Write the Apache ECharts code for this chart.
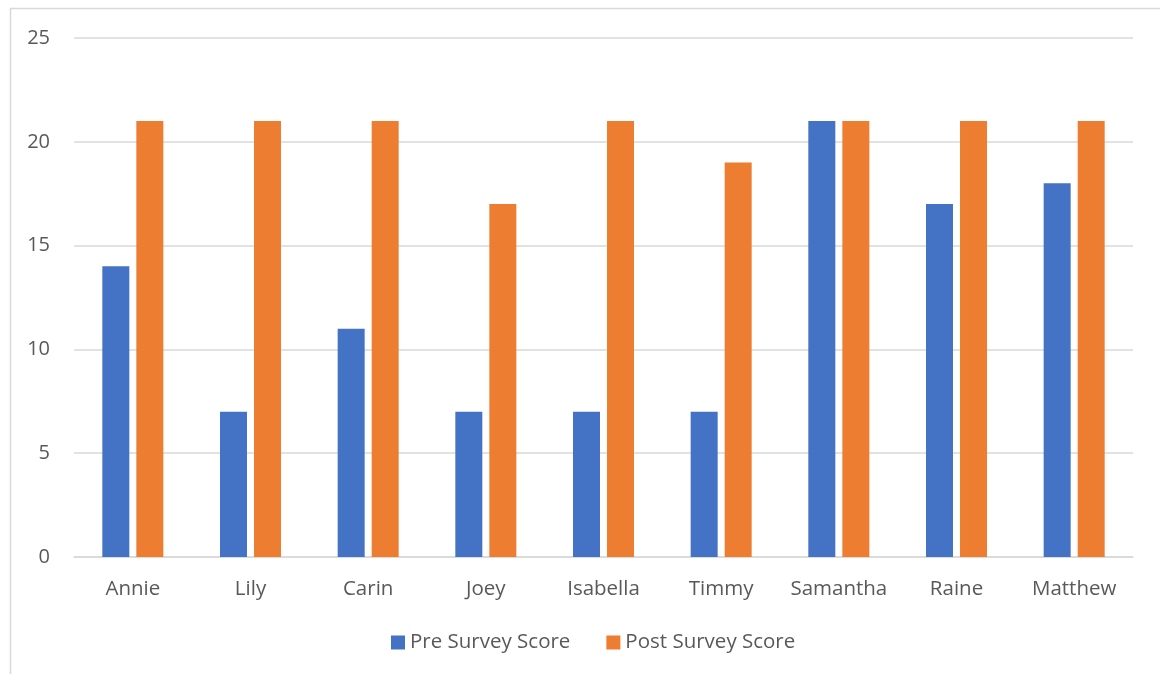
<!DOCTYPE html>
<html>
<head>
<meta charset="utf-8">
<script src="https://cdn.jsdelivr.net/npm/echarts@6/dist/echarts.min.js"></script>
<style>
  html, body { margin: 0; padding: 0; background: #fff; }
  #chart { width: 1160px; height: 674px; }
</style>
</head>
<body>
<div id="chart"></div>
<script>
const names = ['Annie', 'Lily', 'Carin', 'Joey', 'Isabella', 'Timmy', 'Samantha', 'Raine', 'Matthew'];
const preScores = [14, 7, 11, 7, 7, 7, 21, 17, 18];
const postScores = [21, 21, 21, 17, 21, 19, 21, 21, 21];

const chart = echarts.init(document.getElementById('chart'));
const textColor = '#595959';
const fontFamily = '"Open Sans", "Liberation Sans", sans-serif';

chart.setOption({
  animation: false,
  textStyle: { fontFamily: fontFamily },
  graphic: [{
    type: 'rect',
    shape: { x: 10.5, y: 8.5, width: 1160, height: 700 },
    style: { fill: 'none', stroke: '#d9d9d9', lineWidth: 1.5 },
    silent: true
  }],
  grid: { left: 74, right: 27, top: 38, bottom: 117 },
  legend: {
    bottom: 16,
    left: 386,
    itemWidth: 14,
    itemHeight: 14,
    itemGap: 36,
    icon: 'rect',
    textStyle: { color: textColor, fontSize: 20.5, fontFamily: fontFamily }
  },
  xAxis: {
    type: 'category',
    data: names,
    axisLine: { lineStyle: { color: '#d9d9d9', width: 1.5 } },
    axisTick: { show: false },
    axisLabel: { color: textColor, fontSize: 20.5, margin: 22, interval: 0, fontFamily: fontFamily }
  },
  yAxis: {
    type: 'value',
    min: 0,
    max: 25,
    interval: 5,
    axisLine: { show: false },
    axisTick: { show: false },
    axisLabel: { color: textColor, fontSize: 20, margin: 24, fontFamily: fontFamily },
    splitLine: { lineStyle: { color: '#d9d9d9', width: 1.5 } }
  },
  series: [{
    name: 'Pre Survey Score',
    type: 'bar',
    data: preScores,
    barWidth: 27,
    barGap: '26%',
    itemStyle: { color: '#4472c4' }
  }, {
    name: 'Post Survey Score',
    type: 'bar',
    data: postScores,
    barWidth: 27,
    itemStyle: { color: '#ed7d31' }
  }]
});
</script>
</body>
</html>
